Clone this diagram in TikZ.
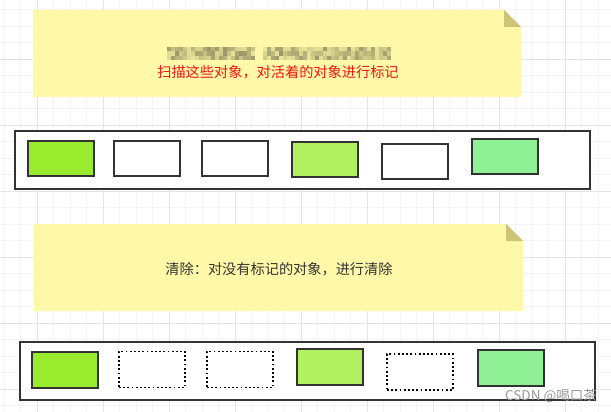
\documentclass[tikz,border=0pt]{standalone}
\usepackage{fontspec}
\newfontfamily\cjk{Noto Sans CJK SC}
\definecolor{notefill}{RGB}{255,248,168}
\definecolor{foldfill}{RGB}{206,196,118}
\definecolor{gminor}{RGB}{243,243,243}
\definecolor{gmajor}{RGB}{228,228,228}
\definecolor{edge}{RGB}{51,51,51}
\definecolor{gA}{RGB}{153,235,45}
\definecolor{gB}{RGB}{178,240,96}
\definecolor{gC}{RGB}{144,240,150}
\definecolor{redtxt}{RGB}{240,20,20}
\definecolor{darktxt}{RGB}{51,51,51}
\tikzset{
  objbox/.style={draw=edge, line width=2pt, minimum width=66pt, minimum height=35pt, inner sep=0pt, fill=white},
  deadbox/.style={draw=black, line width=1.8pt, dash pattern=on 1.8pt off 2.4pt, minimum width=66pt, minimum height=35pt, inner sep=0pt, fill=white},
  heapbar/.style={draw=edge, line width=2pt, inner sep=0pt, fill=white},
  notetext/.style={font=\cjk\fontsize{14.2}{16}\selectfont, inner sep=0pt},
}
\begin{document}
\begin{tikzpicture}[x=1pt,y=-1pt]
\useasboundingbox (0,0) rectangle (611,412);
\fill[white] (0,0) rectangle (611,412);
% grid
\foreach \i in {0,...,36} {
  \draw[gminor, line width=0.8pt] ({4+16.5*\i},0) -- ({4+16.5*\i},412);
}
\foreach \i in {0,...,24} {
  \draw[gminor, line width=0.8pt] (0,{9.5+16.5*\i}) -- (611,{9.5+16.5*\i});
}
\foreach \i in {0,...,9} {
  \draw[gmajor, line width=0.8pt] ({37+66*\i},0) -- ({37+66*\i},412);
}
\foreach \i in {0,...,6} {
  \draw[gmajor, line width=0.8pt] (0,{59+66*\i}) -- (611,{59+66*\i});
}
% note 1
\fill[notefill] (33,10) -- (504,10) -- (521,27) -- (521,97) -- (33,97) -- cycle;
\fill[foldfill] (504,10) -- (504,27) -- (521,27) -- cycle;
% mosaic (pixelated text)
\pgfmathsetseed{7}
\foreach \c in {0,...,55} {
  \foreach \r in {0,...,2} {
    \pgfmathsetmacro{\shade}{int(8+rnd*32)}
    \ifnum\c=22\relax\else\ifnum\c=23\relax\else
    \fill[black!\shade!notefill] ({167+4*\c},{47+4.3*\r}) rectangle ++(4,4.3);
    \fi\fi
  }
}
\node[notetext, text=redtxt] (t1) at (278,72) {扫描这些对象，对活着的对象进行标记};
% bar 1
\node[heapbar, minimum width=575pt, minimum height=58pt] (bar1) at (302.5,160) {};
\node[objbox, fill=gA] (a1) at (60.5,158.5) {};
\node[objbox] (a2) at (147,158.5) {};
\node[objbox] (a3) at (235,158.5) {};
\node[objbox, fill=gB] (a4) at (325,159.5) {};
\node[objbox] (a5) at (415,161) {};
\node[objbox, fill=gC] (a6) at (505,156.5) {};
% note 2
\fill[notefill] (34,224) -- (506,224) -- (523,241) -- (523,311) -- (34,311) -- cycle;
\fill[foldfill] (506,224) -- (506,241) -- (523,241) -- cycle;
\node[notetext, text=darktxt] (t2) at (279,269) {清除：对没有标记的对象，进行清除};
% bar 2
\node[heapbar, minimum width=575pt, minimum height=58pt] (bar2) at (307.5,371) {};
\node[objbox, fill=gA, minimum height=36pt] (b1) at (65,369.5) {};
\node[deadbox, minimum height=36pt] (b2) at (152,369.5) {};
\node[deadbox, minimum height=36pt] (b3) at (240,369.5) {};
\node[objbox, fill=gB, minimum height=36pt] (b4) at (330,366.5) {};
\node[deadbox, minimum height=36pt] (b5) at (420,372) {};
\node[objbox, fill=gC, minimum height=36pt] (b6) at (510.5,367.5) {};
% watermark
\node[font=\cjk\fontsize{13.5}{15}\selectfont, text=black!40, inner sep=0pt, anchor=east] (wm) at (597,396) {CSDN @喝口茶};
\end{tikzpicture}
\end{document}
